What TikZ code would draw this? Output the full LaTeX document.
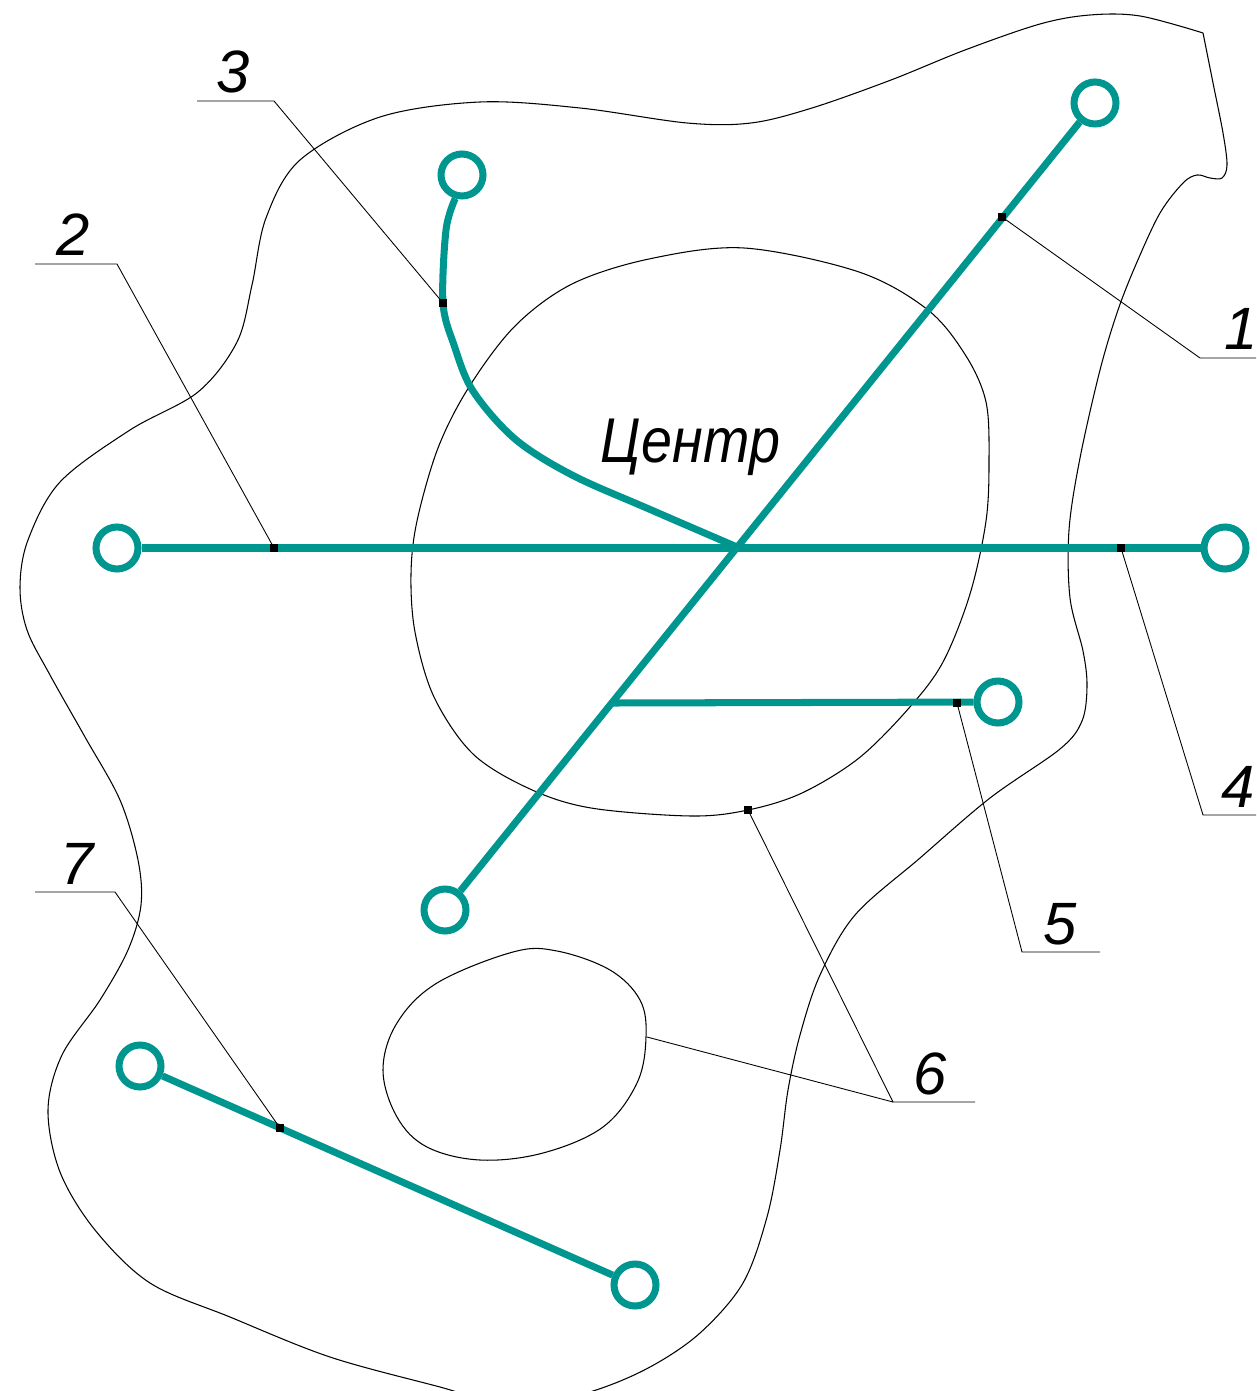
\documentclass[tikz,border=0pt]{standalone}
\usepackage{xcolor}
\usepackage{fontspec}
\usepackage{tikz}
\usetikzlibrary{positioning, arrows.meta}
\newfontfamily\gostfont{Liberation Sans}
\definecolor{pipeteal}{HTML}{009690}

\begin{document}
\begin{tikzpicture}[x=0.02cm, y=-0.02cm,
    contour/.style={draw=black, line width=0.6pt},
    pipe/.style={draw=pipeteal, line width=4pt},
    valve/.style={circle, draw=pipeteal, line width=4pt, minimum size=0.84cm, inner sep=0pt},
    leader/.style={draw=black, line width=0.5pt},
    tick/.style={rectangle, fill=black, minimum size=0.15cm, inner sep=0pt},
    num/.style={font=\gostfont\itshape\fontsize{34}{34}\selectfont, anchor=base, inner sep=0pt}]
  \useasboundingbox (0,0) rectangle (1256,1391);
  \clip (0,0) rectangle (1256,1391);

  % outer boundary
  \draw[contour] plot[smooth, tension=0.55] coordinates {
    (1203,33) (1213,83) (1223,133) (1227,165) (1222,178) (1210,178) (1197,175)
    (1183,183) (1160,213) (1137,262) (1118,310) (1100,370) (1080,458) (1069,530)
    (1070,598) (1083,651) (1087,686) (1082,721) (1060,749) (990,798) (920,858)
    (855,915) (820,975) (800,1035) (788,1090) (780,1150) (767,1217)
    (743,1283) (700,1333) (650,1367) (593,1391) (520,1408) (440,1387) (330,1357)
    (230,1317) (150,1283) (95,1230) (60,1172) (48,1110) (62,1055)
    (100,1000) (128,950) (141,905) (138,860) (120,800)
    (85,737) (50,675) (27,630) (20,587) (28,540) (60,482) (130,430) (198,392)
    (237,342) (252,285) (266,218) (300,160) (380,117) (480,102)
    (580,108) (687,123) (751,123) (812,108) (891,80) (965,50) (1040,24)
    (1090,15) (1140,16) (1203,33)};

  % centre zone
  \draw[contour] plot[smooth cycle, tension=0.55] coordinates {
    (744,248) (859,272) (928,310) (966,356) (986,402) (989,460) (986,521)
    (970,594) (943,662) (909,708) (859,758) (802,793) (748,810) (691,816)
    (591,808) (530,789) (473,754) (434,697) (415,632) (411,574) (417,521)
    (438,448) (469,387) (515,326) (572,284) (649,259)};

  % small zone
  \draw[contour] plot[smooth cycle, tension=0.6] coordinates {
    (383,1070) (397,1023) (437,983) (513,952) (557,951) (610,970) (640,1000)
    (646,1037) (637,1083) (603,1127) (543,1153) (480,1160) (427,1147) (397,1117)};

  \node at (690,462) [anchor=base, inner sep=0pt, xscale=0.88,
    font=\gostfont\itshape\fontsize{36}{36}\selectfont] (centre) {Центр};

  % valves
  \node[valve] (c1) at (1095,103) {};
  \node[valve] (c2) at (117,548) {};
  \node[valve] (c3) at (462,175) {};
  \node[valve] (c4) at (1225,548) {};
  \node[valve] (c5) at (998,702) {};
  \node[valve] (c6) at (445,910) {};
  \node[valve] (c7) at (140,1066) {};
  \node[valve] (c8) at (635,1285) {};
  \coordinate (ctr) at (737,547);
  \coordinate (br) at (612,703);

  % pipes
  \draw[pipe] (c1) -- (c6);
  \draw[pipe] (c2) -- (c4);
  \draw[pipe] (br) -- (c5);
  \draw[pipe] (c7) -- (c8);
  \draw[pipe] plot[smooth, tension=0.55] coordinates {
    (c3.-106) (446,230) (443,303) (454,345) (473,391) (515,439) (572,475)
    (649,509) (ctr)};

  % leaders
  \node[tick] (t1) at (1002,217) {};
  \node[tick] (t2) at (274,548) {};
  \node[tick] (t3) at (443,303) {};
  \node[tick] (t4) at (1121,548) {};
  \node[tick] (t5) at (957,703) {};
  \node[tick] (t6) at (748,810) {};
  \node[tick] (t7) at (280,1128) {};
  \coordinate (b6) at (647,1037);

  \coordinate (s1) at (1200,358); \coordinate (s1e) at (1256,358);
  \coordinate (s2) at (117,264);  \coordinate (s2e) at (35,264);
  \coordinate (s3) at (274,101);  \coordinate (s3e) at (197,101);
  \coordinate (s4) at (1203,815); \coordinate (s4e) at (1256,815);
  \coordinate (s5) at (1022,952); \coordinate (s5e) at (1100,952);
  \coordinate (s6) at (893,1102); \coordinate (s6e) at (975,1102);
  \coordinate (s7) at (115,892);  \coordinate (s7e) at (35,892);

  \draw[leader] (t1.center) -- (s1) -- (s1e);
  \draw[leader] (t2.center) -- (s2) -- (s2e);
  \draw[leader] (t3.center) -- (s3) -- (s3e);
  \draw[leader] (t4.center) -- (s4) -- (s4e);
  \draw[leader] (t5.center) -- (s5) -- (s5e);
  \draw[leader] (t6.center) -- (s6) -- (s6e);
  \draw[leader] (b6) -- (s6);
  \draw[leader] (t7.center) -- (s7) -- (s7e);

  \node[num] (n1) at (1241,350) {1};
  \node[num] (n2) at (73,256) {2};
  \node[num] (n3) at (233,93) {3};
  \node[num] (n4) at (1238,807) {4};
  \node[num] (n5) at (1060,944) {5};
  \node[num] (n6) at (930,1094) {6};
  \node[num] (n7) at (77,884) {7};
\end{tikzpicture}
\end{document}
